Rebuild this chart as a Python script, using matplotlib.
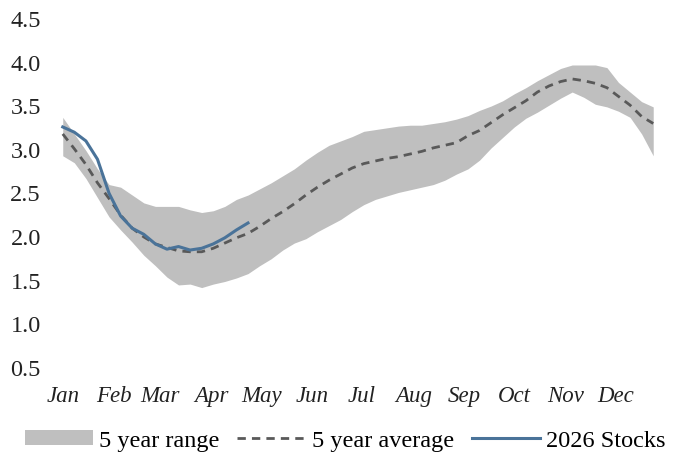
import matplotlib.pyplot as plt
import numpy as np
from matplotlib.patches import Patch
from matplotlib.lines import Line2D

plt.rcParams['font.family'] = ['Liberation Serif', 'DejaVu Serif']

# weekly values (week 0 = first week of January)
range_high = [3.36, 3.17, 2.98, 2.77, 2.59, 2.56, 2.47, 2.38, 2.34, 2.34,
              2.34, 2.30, 2.27, 2.29, 2.34, 2.42, 2.47, 2.54, 2.61, 2.69,
              2.77, 2.87, 2.96, 3.04, 3.09, 3.14, 3.20, 3.22, 3.24, 3.26,
              3.27, 3.27, 3.29, 3.31, 3.34, 3.38, 3.44, 3.49, 3.55, 3.63,
              3.70, 3.78, 3.85, 3.92, 3.96, 3.96, 3.96, 3.93, 3.76, 3.65,
              3.54, 3.48]
range_low = [2.92, 2.84, 2.66, 2.44, 2.22, 2.07, 1.93, 1.78, 1.66, 1.53,
             1.44, 1.45, 1.41, 1.45, 1.48, 1.52, 1.57, 1.66, 1.74, 1.84,
             1.92, 1.97, 2.05, 2.12, 2.19, 2.28, 2.36, 2.42, 2.46, 2.50,
             2.53, 2.56, 2.59, 2.64, 2.71, 2.77, 2.87, 3.01, 3.13, 3.25,
             3.35, 3.42, 3.50, 3.58, 3.65, 3.59, 3.51, 3.48, 3.43, 3.36,
             3.17, 2.92]
avg5 = [3.17, 3.00, 2.82, 2.61, 2.43, 2.24, 2.09, 1.99, 1.91, 1.87,
        1.83, 1.82, 1.82, 1.86, 1.92, 1.98, 2.03, 2.11, 2.20, 2.28,
        2.37, 2.47, 2.56, 2.64, 2.71, 2.78, 2.83, 2.86, 2.89, 2.91,
        2.94, 2.97, 3.01, 3.04, 3.07, 3.15, 3.21, 3.30, 3.39, 3.47,
        3.55, 3.65, 3.72, 3.77, 3.80, 3.78, 3.75, 3.70, 3.60, 3.50,
        3.37, 3.29]
stocks_2026 = [3.25, 3.19, 3.09, 2.88, 2.49, 2.23, 2.09, 2.02, 1.91, 1.85,
               1.88, 1.84, 1.86, 1.91, 1.98, 2.07, 2.15]

months = ['Jan', 'Feb', 'Mar', 'Apr', 'May', 'Jun', 'Jul', 'Aug', 'Sep', 'Oct', 'Nov', 'Dec']
month_start_day = [0, 31, 59, 90, 120, 151, 181, 212, 243, 273, 304, 334]

weeks = np.arange(len(avg5))
weeks_stock = np.arange(len(stocks_2026))

fig = plt.figure(figsize=(6.78, 4.60), dpi=100)
ax = fig.add_axes([0.084, 0.2, 0.888, 0.759])

ax.fill_between(weeks, range_low, range_high, color='#BFBFBF', linewidth=0)
ax.plot(weeks, avg5, color='#595959', linewidth=2.0, dashes=(3, 2.2))
ax.plot(weeks_stock, stocks_2026, color='#4A7399', linewidth=2.2)

ax.set_xlim(-0.5, 51.5)
ax.set_ylim(0.5, 4.5)
yt = np.arange(0.5, 4.51, 0.5)
ax.set_yticks(yt)
ax.set_yticklabels([f"{v:.1f}" for v in yt], fontsize=17.5, color='#222222')
ax.set_xticks([d / 7 for d in month_start_day])
ax.set_xticklabels(months, fontsize=16.5, style='italic', color='#222222')
ax.tick_params(axis='both', length=0)
ax.tick_params(axis='x', pad=13)
ax.tick_params(axis='y', pad=11.5)
for s in ax.spines.values():
    s.set_visible(False)

handles = [Patch(facecolor='#BFBFBF', edgecolor='none'),
           Line2D([], [], color='#595959', linewidth=2.0, dashes=(3, 2.2)),
           Line2D([], [], color='#4A7399', linewidth=2.2)]
labels = ['5 year range', '5 year average', '2026 Stocks']
fig.legend(handles, labels, loc='center', bbox_to_anchor=(0.509, 0.04), ncol=3,
           frameon=False, fontsize=17.5, handlelength=2.8, handleheight=0.55,
           handletextpad=0.25, columnspacing=0.75, borderpad=0, borderaxespad=0)

fig.savefig('out.png', dpi=100)
